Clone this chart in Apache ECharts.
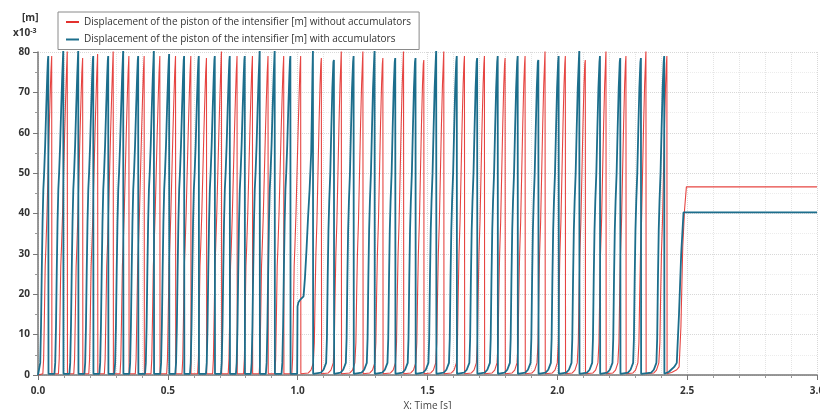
<!DOCTYPE html>
<html><head><meta charset="utf-8">
<script src="https://cdn.jsdelivr.net/npm/echarts@6/dist/echarts.min.js"></script>
<style>html,body{margin:0;padding:0;background:#fff}#c{width:820px;height:409px}</style>
</head><body><div id="c"></div>
<script>
// ---- data ----
const seriesNames = [
  'Displacement of the piston of the intensifier [m] without accumulators',
  'Displacement of the piston of the intensifier [m] with accumulators'
];
const xTicks = [0, 0.5, 1.0, 1.5, 2.0, 2.5, 3.0];
// peak times [s] and peak values [x10^-3 m]
const redPeakTimes = [0.0527,0.1127,0.1719,0.2296,0.2896,0.3500,0.4088,0.4692,0.5296,0.5885,0.6488,0.7065,0.7665,0.8258,0.8858,0.9462,1.0115,1.0912,1.1681,1.2512,1.3281,1.4077,1.4858,1.5627,1.6423,1.7192,1.7988,1.8758,1.9527,2.0308,2.1077,2.1873,2.2642,2.3412,2.4219];
const redPeakValues = [79,80.5,78.5,79.5,80.5,79,79,79,79,79,78.5,80.5,79,79,79,79,79,78.5,80.5,80.5,78.5,80.5,78,80.5,79,79,78.5,79,80.5,79,78,80.5,79,80.5,79];
const bluePeakTimes = [0.0396,0.0973,0.1550,0.2127,0.2704,0.3281,0.3858,0.4462,0.5050,0.5627,0.6192,0.6808,0.7385,0.7962,0.8538,0.9115,0.9719,1.0588,1.1396,1.2154,1.2962,1.3758,1.4538,1.5335,1.6127,1.6912,1.7704,1.8473,1.9269,2.0050,2.0846,2.1642,2.2423,2.3219,2.4115];
const bluePeakValues = [79,80.5,80.5,79,79,80.5,79,80.5,79.5,79,79,79,79,79,80.5,80.5,79,80.5,78,79,80.5,78.5,78.5,80.5,79,78.5,79,79,78,79,80.5,79,78.5,78.5,79];
// stroke shapes before the peak: [time offset from peak s, value]
const redRiseEarly  = [[-0.034,0.3],[-0.031,4],[-0.028,15],[-0.025,27],[-0.022,32],[-0.018,40],[-0.014,50],[-0.010,60],[-0.006,69],[-0.003,75]];
const blueRiseEarly = [[-0.034,0.3],[-0.031,3],[-0.028,12],[-0.025,26],[-0.022,38],[-0.019,46],[-0.016,50],[-0.012,57],[-0.008,66],[-0.004,74],[-0.0015,78]];
const redRiseLate   = [[-0.050,0.5],[-0.040,1.2],[-0.031,3],[-0.027,8],[-0.024,20],[-0.021,30],[-0.017,38],[-0.013,50],[-0.009,62],[-0.005,72],[-0.002,77]];
const blueRiseLate  = [[-0.050,0.6],[-0.040,1.3],[-0.030,3],[-0.027,9],[-0.024,24],[-0.021,36],[-0.018,43],[-0.014,50],[-0.010,61],[-0.006,71],[-0.002,77.5]];
// blue partial stroke near t = 1.0 s
const blueEvent = [[0.998,0.3],[0.9995,17],[1.003,18],[1.012,18.8],[1.0227,19.5],[1.028,24],[1.034,31],[1.040,39],[1.046,46],[1.052,55],[1.055,66],[1.057,75]];
// final settling after the strokes end
const redTail  = [[2.440,0.6],[2.460,1.3],[2.469,2],[2.476,12],[2.483,31.8],[2.490,41],[2.497,46.6],[3.0,46.6]];
const blueTail = [[2.430,0.8],[2.450,2],[2.460,3],[2.4685,15],[2.477,30],[2.486,40.3],[3.0,40.3]];
const lateFrom = 1.03;

function build(times, vals, early, late, special, tail) {
  const d = [[0, 0]];
  times.forEach((p, i) => {
    let pre;
    if (special && Math.abs(p - 1.0588) < 1e-6) pre = special;
    else pre = (p < lateFrom ? early : late).map(o => [+(p + o[0]).toFixed(5), o[1]]);
    pre.forEach(q => { if (q[0] > d[d.length - 1][0]) d.push(q); });
    d.push([p, vals[i]]);
    d.push([+(p + 0.0008).toFixed(5), 0.3]);
  });
  tail.forEach(q => d.push(q));
  return d;
}
const redData = build(redPeakTimes, redPeakValues, redRiseEarly, redRiseLate, null, redTail);
const blueData = build(bluePeakTimes, bluePeakValues, blueRiseEarly, blueRiseLate, blueEvent, blueTail);

const chart = echarts.init(document.getElementById('c'), null, {renderer: 'canvas'});
const FONT = 'Open Sans';
chart.setOption({
  animation: false,
  backgroundColor: '#fff',
  grid: {left: 38, right: 3, top: 52, bottom: 34, containLabel: false, outerBoundsMode: 'none'},
  legend: {
    orient: 'vertical', left: 58, top: 12,
    backgroundColor: '#fff', borderColor: '#8a8a8a', borderWidth: 1, borderRadius: 0,
    padding: [5, 8, 5, 8], itemGap: 7.5, itemWidth: 13, itemHeight: 2, icon: 'rect',
    textStyle: {fontFamily: FONT, fontSize: 10, color: '#333'},
    data: seriesNames
  },
  xAxis: {
    type: 'value', min: 0, max: 3, interval: 0.5,
    name: 'X: Time [s]', nameLocation: 'middle', nameGap: 21,
    nameTextStyle: {fontFamily: FONT, fontSize: 10, color: '#444'},
    axisLine: {show: true, lineStyle: {color: '#777', width: 1.5}},
    axisTick: {show: true, length: 5, lineStyle: {color: '#777'}},
    minorTick: {show: true, splitNumber: 5, length: 3, lineStyle: {color: '#999'}},
    axisLabel: {fontFamily: FONT, fontWeight: 'bold', fontSize: 10, color: '#333', margin: 11,
      formatter: v => xTicks.includes(+v.toFixed(1)) ? v.toFixed(1) : ''},
    splitLine: {show: true, lineStyle: {color: '#d8d8d8', type: 'dotted'}},
    minorSplitLine: {show: true, lineStyle: {color: '#e4e4e4', type: 'dotted'}}
  },
  yAxis: {
    type: 'value', min: 0, max: 80, interval: 10,
    axisLine: {show: true, lineStyle: {color: '#777', width: 1.5}},
    axisTick: {show: true, length: 5, lineStyle: {color: '#777'}},
    minorTick: {show: true, splitNumber: 2, length: 3, lineStyle: {color: '#999'}},
    axisLabel: {fontFamily: FONT, fontWeight: 'bold', fontSize: 10, color: '#333', margin: 8},
    splitLine: {show: true, lineStyle: {color: '#d8d8d8', type: 'dotted'}},
    minorSplitLine: {show: true, lineStyle: {color: '#ececec', type: 'dotted'}}
  },
  graphic: [
    {type: 'text', left: 22, top: 13, style: {text: '[m]', font: 'bold 10px "Open Sans"', fill: '#333'}},
    {type: 'text', left: 13, top: 27, style: {
      text: 'x10{s|-3}', font: 'bold 10px "Open Sans"', fill: '#333',
      rich: {s: {fontSize: 7, fontWeight: 'bold', fontFamily: FONT, verticalAlign: 'top', padding: [0,0,6,0]}}
    }}
  ],
  series: [
    {name: seriesNames[0], type: 'line', data: redData, showSymbol: false, symbol: 'none',
     lineStyle: {color: '#e3312e', width: 1.1, opacity: 0.9}, itemStyle: {color: '#e3312e'}, z: 2},
    {name: seriesNames[1], type: 'line', data: blueData, showSymbol: false, symbol: 'none',
     lineStyle: {color: '#1c6e8c', width: 1.8}, itemStyle: {color: '#1c6e8c'}, z: 3}
  ]
});
</script></body></html>
